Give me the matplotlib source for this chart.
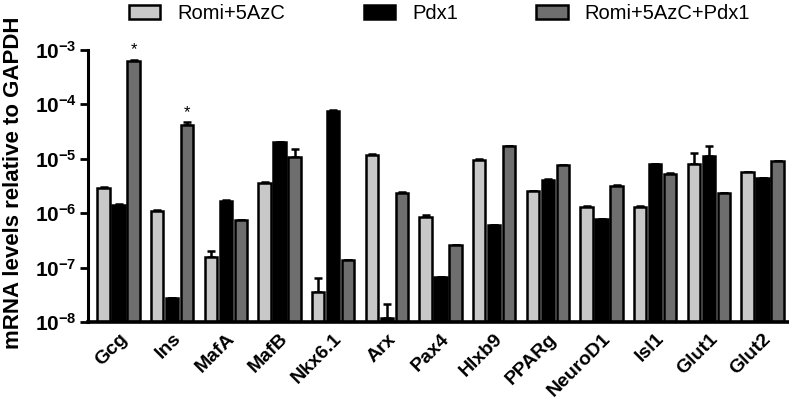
import numpy as np
import matplotlib
matplotlib.use('Agg')
import matplotlib.pyplot as plt
from matplotlib.ticker import FixedLocator, NullLocator

plt.rcParams['font.family'] = ['Liberation Sans', 'DejaVu Sans']
plt.rcParams['mathtext.fontset'] = 'custom'
plt.rcParams['mathtext.rm'] = 'Liberation Sans'
plt.rcParams['mathtext.bf'] = 'Liberation Sans:bold'

# data
genes = ['Gcg', 'Ins', 'MafA', 'MafB', 'Nkx6.1', 'Arx', 'Pax4', 'Hlxb9',
         'PPARg', 'NeuroD1', 'Isl1', 'Glut1', 'Glut2']
series = ['Romi+5AzC', 'Pdx1', 'Romi+5AzC+Pdx1']
romi = [2.9e-6, 1.1e-6, 1.55e-7, 3.6e-6, 3.6e-8, 1.17e-5, 8.5e-7, 9.3e-6,
        2.5e-6, 1.3e-6, 1.3e-6, 8.0e-6, 5.6e-6]
pdx1 = [1.4e-6, 2.8e-8, 1.7e-6, 2.0e-5, 7.5e-5, 1.2e-8, 6.6e-8, 6.0e-7,
        4.1e-6, 7.9e-7, 7.9e-6, 1.1e-5, 4.4e-6]
combo = [6.3e-4, 4.1e-5, 7.4e-7, 1.07e-5, 1.4e-7, 2.3e-6, 2.6e-7, 1.7e-5,
         7.5e-6, 3.2e-6, 5.3e-6, 2.3e-6, 9.0e-6]
romi_err = [0.1e-6, 0.05e-6, 0.45e-7, 0.2e-6, 2.7e-8, 0.3e-6, 0.9e-7, 0.6e-6,
            0.1e-6, 0.05e-6, 0.05e-6, 4.5e-6, 0.2e-6]
pdx1_err = [0.1e-6, 0.0, 0.05e-6, 0.5e-6, 2.0e-6, 0.9e-8, 0.0, 0.0,
            0.1e-6, 0.0, 0.2e-6, 6.0e-6, 0.1e-6]
combo_err = [0.3e-4, 0.6e-5, 0.0, 0.45e-5, 0.0, 0.1e-6, 0.0, 0.3e-6,
             0.2e-6, 0.1e-6, 0.1e-6, 0.0, 0.2e-6]
stars = ['*', '*', '', '', '', '', '', '', '', '', '', '', '']

colors = ['#c8c8c8', '#000000', '#6e6e6e']

fig = plt.figure(figsize=(7.89, 4.05), dpi=100)
ax = fig.add_axes([0.1115, 0.205, 0.887, 0.672])

x = np.arange(len(genes))
w = 0.23
off = 0.28
vals = [romi, pdx1, combo]
errs = [romi_err, pdx1_err, combo_err]
for k in range(3):
    pos = x + (k - 1) * off
    ax.bar(pos, vals[k], w, color=colors[k], edgecolor='black', linewidth=1.8,
           label=series[k], zorder=2)
    e = np.array(errs[k])
    ax.errorbar(pos, vals[k], yerr=[np.zeros_like(e), e], fmt='none',
                ecolor='black', elinewidth=1.8, capsize=3, capthick=1.8, zorder=1)

for i, s in enumerate(stars):
    if s:
        ax.text(x[i] + off, (combo[i] + combo_err[i]) * 1.1, s, ha='center',
                va='bottom', fontsize=12)

ax.set_yscale('log')
ax.set_ylim(1e-8, 1e-3)
ax.set_xlim(-0.57, 12.47)
ax.yaxis.set_major_locator(FixedLocator([1e-8, 1e-7, 1e-6, 1e-5, 1e-4, 1e-3]))
ax.yaxis.set_minor_locator(NullLocator())
ax.set_yticklabels([r'$\mathbf{10^{-%d}}$' % p for p in [8, 7, 6, 5, 4, 3]],
                   fontsize=15)
ax.set_xticks(x)
ax.set_xticklabels(genes, rotation=45, ha='right', rotation_mode='anchor',
                   fontsize=14, fontweight='bold')
ax.tick_params(axis='x', length=0, pad=6)
ax.tick_params(axis='y', width=2, length=6, pad=2)
ax.spines['top'].set_visible(False)
ax.spines['right'].set_visible(False)
ax.spines['left'].set_linewidth(2.2)
ax.spines['bottom'].set_linewidth(2.6)
ax.set_ylabel('mRNA levels relative to GAPDH', fontsize=16, fontweight='bold')
ax.yaxis.set_label_coords(-0.092, 0.51)

fig.legend(loc='upper center', ncol=3, frameon=False, fontsize=14.5,
           bbox_to_anchor=(0.557, 1.035), handlelength=1.55, handleheight=0.7,
           handletextpad=0.85, columnspacing=3.9)

fig.savefig('out.png', dpi=100)
